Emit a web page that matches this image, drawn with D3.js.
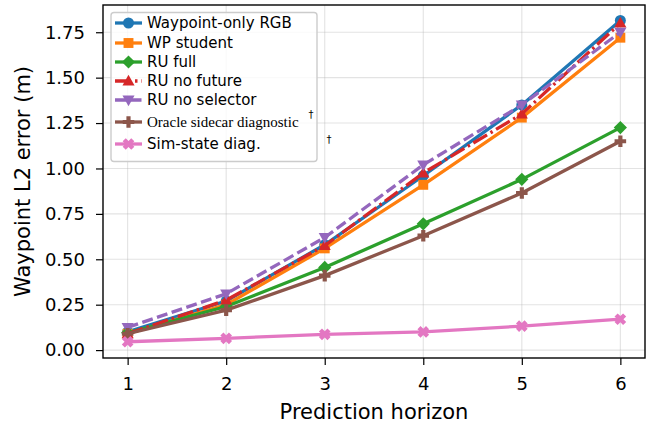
<!DOCTYPE html>
<html>
<head>
<meta charset="utf-8">
<script src="https://cdn.jsdelivr.net/npm/d3@7"></script>
<style>
body { margin: 0; background: #fff; }
</style>
</head>
<body>
<div id="chart"></div>
<script>
// horizons on the x axis
var horizons = [1, 2, 3, 4, 5, 6];
var yTicks = [0, 0.25, 0.5, 0.75, 1.0, 1.25, 1.5, 1.75];

// one array per run
var waypointRgb   = [0.100, 0.270, 0.580, 0.960, 1.350, 1.815];
var wpStudent     = [0.090, 0.250, 0.560, 0.910, 1.280, 1.720];
var ruFull        = [0.095, 0.240, 0.455, 0.695, 0.940, 1.225];
var ruNoFuture    = [0.090, 0.275, 0.575, 0.975, 1.300, 1.800];
var ruNoSelector  = [0.125, 0.310, 0.620, 1.020, 1.350, 1.750];
var oracleSidecar = [0.090, 0.220, 0.410, 0.630, 0.865, 1.150];
var simState      = [0.046, 0.065, 0.087, 0.100, 0.132, 0.170];

var series = [
    { name: "Waypoint-only RGB", values: waypointRgb, color: "#1f77b4", marker: "circle", dash: null },
    { name: "WP student", values: wpStudent, color: "#ff7f0e", marker: "square", dash: null },
    { name: "RU full", values: ruFull, color: "#2ca02c", marker: "diamond", dash: null },
    { name: "RU no future", values: ruNoFuture, color: "#d62728", marker: "triup", dash: "16,4,2.5,4" },
    { name: "RU no selector", values: ruNoSelector, color: "#9467bd", marker: "tridown", dash: "11,4.5" },
    { name: "Oracle sidecar diagnostic", values: oracleSidecar, color: "#8c564b", marker: "plus", dash: null, serif: true },
    { name: "Sim-state diag.", values: simState, color: "#e377c2", marker: "xfill", dash: null }
];

var width = 651, height = 428;
var pLeft = 103, pRight = 645, pTop = 5, pBottom = 358;

var svg = d3.select("#chart").append("svg")
    .attr("width", width)
    .attr("height", height)
    .style("font-family", "'DejaVu Sans', sans-serif");

var x = d3.scaleLinear().domain([0.75, 6.25]).range([pLeft, pRight]);
var y = d3.scaleLinear().domain([-0.0435, 1.9]).range([pBottom, pTop]);

// grid
svg.append("g").selectAll("line").data(horizons).enter().append("line")
    .attr("x1", function(d) { return x(d); }).attr("x2", function(d) { return x(d); })
    .attr("y1", pTop).attr("y2", pBottom)
    .attr("stroke", "#b0b0b0").attr("stroke-opacity", 0.35).attr("stroke-width", 1.1);
svg.append("g").selectAll("line").data(yTicks).enter().append("line")
    .attr("y1", function(d) { return y(d); }).attr("y2", function(d) { return y(d); })
    .attr("x1", pLeft).attr("x2", pRight)
    .attr("stroke", "#b0b0b0").attr("stroke-opacity", 0.35).attr("stroke-width", 1.1);

// markers
function markerPath(type, r) {
    var p = d3.path();
    if (type === "circle") {
        p.arc(0, 0, r, 0, 2 * Math.PI);
    } else if (type === "square") {
        var s = r * 0.9;
        p.rect(-s, -s, 2 * s, 2 * s);
    } else if (type === "diamond") {
        var d = r * 1.2;
        p.moveTo(0, -d); p.lineTo(d, 0); p.lineTo(0, d); p.lineTo(-d, 0); p.closePath();
    } else if (type === "triup") {
        p.moveTo(0, -r * 1.15); p.lineTo(r * 1.1, r * 0.8); p.lineTo(-r * 1.1, r * 0.8); p.closePath();
    } else if (type === "tridown") {
        p.moveTo(0, r * 1.15); p.lineTo(r * 1.1, -r * 0.8); p.lineTo(-r * 1.1, -r * 0.8); p.closePath();
    } else if (type === "plus" || type === "xfill") {
        var a = r * 1.05, b = r * 0.38;
        var pts = [[-b,-a],[b,-a],[b,-b],[a,-b],[a,b],[b,b],[b,a],[-b,a],[-b,b],[-a,b],[-a,-b],[-b,-b]];
        if (type === "xfill") {
            var c = Math.SQRT1_2;
            pts = pts.map(function(q) { return [(q[0] - q[1]) * c * 1.05, (q[0] + q[1]) * c * 1.05]; });
        }
        p.moveTo(pts[0][0], pts[0][1]);
        for (var i = 1; i < pts.length; i++) p.lineTo(pts[i][0], pts[i][1]);
        p.closePath();
    }
    return p.toString();
}

var line = d3.line()
    .x(function(d, i) { return x(horizons[i]); })
    .y(function(d) { return y(d); });

var plot = svg.append("g");
series.forEach(function(s) {
    var g = plot.append("g");
    g.append("path")
        .attr("d", line(s.values))
        .attr("fill", "none")
        .attr("stroke", s.color)
        .attr("stroke-width", 3.3)
        .attr("stroke-dasharray", s.dash);
    g.selectAll("path.m").data(s.values).enter().append("path")
        .attr("class", "m")
        .attr("transform", function(d, i) { return "translate(" + x(horizons[i]) + "," + y(d) + ")"; })
        .attr("d", markerPath(s.marker, 5.5))
        .attr("fill", s.color);
});

// spines
svg.append("rect")
    .attr("x", pLeft).attr("y", pTop)
    .attr("width", pRight - pLeft).attr("height", pBottom - pTop)
    .attr("fill", "none").attr("stroke", "#000").attr("stroke-width", 1.4);

// axes
var xAxis = svg.append("g")
    .attr("transform", "translate(0," + pBottom + ")")
    .call(d3.axisBottom(x).tickValues(horizons).tickFormat(d3.format("d")).tickSizeOuter(0).tickSize(7).tickPadding(12));
var yAxis = svg.append("g")
    .attr("transform", "translate(" + pLeft + ",0)")
    .call(d3.axisLeft(y).tickValues(yTicks).tickFormat(d3.format(".2f")).tickSizeOuter(0).tickSize(7).tickPadding(11));
[xAxis, yAxis].forEach(function(a) {
    a.select(".domain").remove();
    a.selectAll("line").attr("stroke", "#000").attr("stroke-width", 1.2);
    a.selectAll("text").attr("fill", "#000").style("font-size", "18px").style("font-family", "'DejaVu Sans', sans-serif");
});

svg.append("text")
    .attr("x", (pLeft + pRight) / 2).attr("y", 419)
    .attr("text-anchor", "middle")
    .style("font-size", "21px")
    .text("Prediction horizon");
svg.append("text")
    .attr("transform", "translate(30," + ((pTop + pBottom) / 2) + ") rotate(-90)")
    .attr("text-anchor", "middle")
    .style("font-size", "21px")
    .text("Waypoint L2 error (m)");

// legend
var legend = svg.append("g");
legend.append("rect")
    .attr("x", 111).attr("y", 12.5)
    .attr("width", 206).attr("height", 149)
    .attr("rx", 3)
    .attr("fill", "#fff").attr("fill-opacity", 0.8)
    .attr("stroke", "#cccccc").attr("stroke-width", 1.4);
var rowsY = [23, 43, 62, 81, 100, 122, 144];
series.forEach(function(s, i) {
    var ry = rowsY[i];
    legend.append("line")
        .attr("x1", 115).attr("x2", 142).attr("y1", ry).attr("y2", ry)
        .attr("stroke", s.color).attr("stroke-width", 3.3)
        .attr("stroke-dasharray", s.dash);
    legend.append("path")
        .attr("transform", "translate(128.5," + ry + ")")
        .attr("d", markerPath(s.marker, 5.5))
        .attr("fill", s.color);
    legend.append("text")
        .attr("x", 147).attr("y", ry)
        .attr("dy", "0.36em")
        .style("font-size", "15px")
        .style("font-family", s.serif ? "'Liberation Serif', 'Times New Roman', serif" : "'DejaVu Sans', sans-serif")
        .text(s.name);
});

// daggers
svg.append("text").attr("x", 311).attr("y", 118).attr("text-anchor", "middle")
    .attr("fill", "#000").style("font-size", "10px").text("\u2020");
svg.append("text").attr("x", 329).attr("y", 143).attr("text-anchor", "middle")
    .attr("fill", "#000").style("font-size", "10px").text("\u2020");
</script>
</body>
</html>
